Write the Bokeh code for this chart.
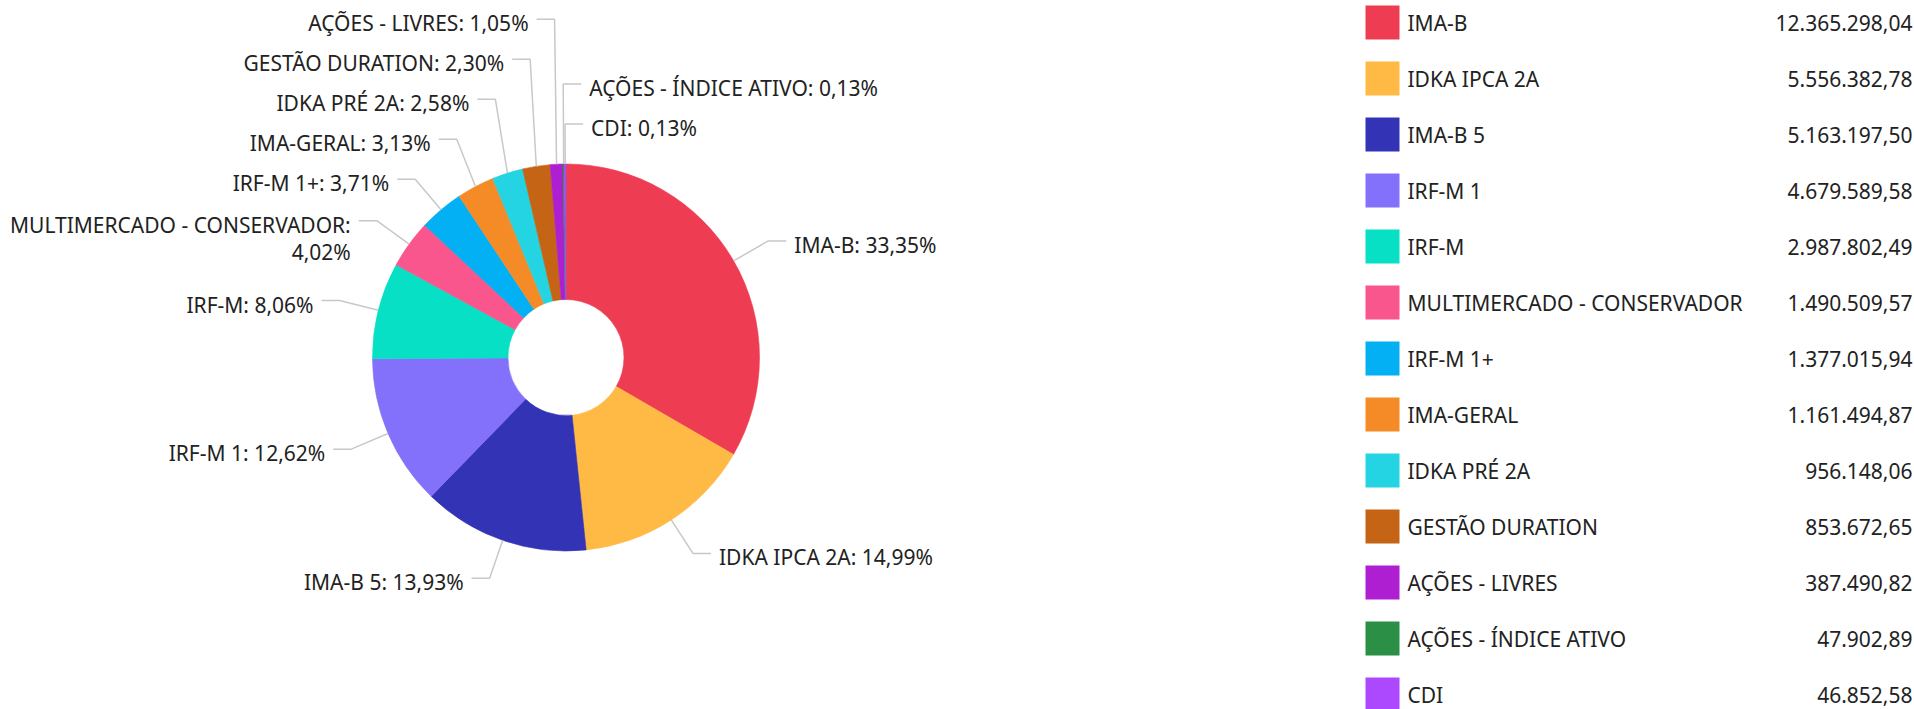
import math
from bokeh.plotting import figure
from bokeh.models import Range1d, ColumnDataSource
from bokeh.core.properties import value
from bokeh.embed import file_html
from bokeh.resources import INLINE

# ---------------- data ----------------
categories = [
    "IMA-B", "IDKA IPCA 2A", "IMA-B 5", "IRF-M 1", "IRF-M",
    "MULTIMERCADO - CONSERVADOR", "IRF-M 1+", "IMA-GERAL", "IDKA PRÉ 2A",
    "GESTÃO DURATION", "AÇÕES - LIVRES", "AÇÕES - ÍNDICE ATIVO", "CDI",
]
amounts = [
    12365298.04, 5556382.78, 5163197.50, 4679589.58, 2987802.49,
    1490509.57, 1377015.94, 1161494.87, 956148.06,
    853672.65, 387490.82, 47902.89, 46852.58,
]
colors = [
    "#ee3d53", "#ffba45", "#3333b6", "#8370fb", "#07e0c5",
    "#f8568c", "#03b0f3", "#f58b27", "#25d4e3",
    "#c66416", "#ad1fd1", "#2b8f45", "#ac48fd",
]

# ---------------- layout constants ----------------
W, H = 1914, 709
CX, CY = 565.5, 357.0
R_OUT, R_IN = 193.5, 58.0
LINE_LEN, LINE_LEN2, TEXT_GAP = 40.0, 18.0, 8.0
LABEL_GAP, LINE_HEIGHT, TEXT_DY = 40.0, 27.0, 4.0
FONT = value("Noto Sans")
FSIZE = value("21px")
TEXT_COLOR = "#222222"


def Y(y):
    return H - y


def br_number(v):
    s = f"{v:,.2f}"
    return s.replace(",", "X").replace(".", ",").replace("X", ".")


total = sum(amounts)
pcts = [a / total * 100 for a in amounts]

p = figure(width=W, height=H, x_range=Range1d(0, W), y_range=Range1d(0, H),
           output_backend="svg", toolbar_location=None, min_border=0)
p.axis.visible = False
p.grid.visible = False
p.outline_line_color = None
p.background_fill_color = "white"
p.border_fill_color = "white"

# ---------------- pie ----------------
starts, ends, mids = [], [], []
cum = 0.0
for a in amounts:
    f0 = cum / total
    cum += a
    f1 = cum / total
    starts.append(math.pi / 2 - 2 * math.pi * f0)
    ends.append(math.pi / 2 - 2 * math.pi * f1)
    mids.append(math.pi * (f0 + f1))  # clockwise angle from top

pie_src = ColumnDataSource(dict(
    x=[CX] * len(amounts), y=[Y(CY)] * len(amounts),
    start=starts, end=ends, color=colors))
p.annular_wedge(x="x", y="y", inner_radius=R_IN, outer_radius=R_OUT,
                start_angle="start", end_angle="end", direction="clock",
                fill_color="color", line_color="color", line_width=0.6,
                source=pie_src)

# ---------------- outside labels ----------------
right, left = [], []
for i, th in enumerate(mids):
    if math.sin(th) > -0.03:
        right.append(i)
    else:
        left.append(i)

right.sort(key=lambda i: mids[i] if mids[i] < math.pi else mids[i] - 2 * math.pi)
left.sort(key=lambda i: -mids[i])

label_y = {}
for side in (right, left):
    ys = [CY - (R_OUT + LINE_LEN) * math.cos(mids[i]) for i in side]
    for k in range(len(ys) - 2, -1, -1):
        ys[k] = min(ys[k], ys[k + 1] - LABEL_GAP)
    for i, yy in zip(side, ys):
        label_y[i] = yy

lx, ly = [], []
tx, ty, tt, ta = [], [], [], []
for i, th in enumerate(mids):
    s, c = math.sin(th), math.cos(th)
    d = 1 if i in right else -1
    x1, y1 = CX + R_OUT * s, CY - R_OUT * c
    x2, y2 = CX + (R_OUT + LINE_LEN) * s, label_y[i]
    x3 = x2 + d * LINE_LEN2
    lx.append([x1, x2, x3])
    ly.append([Y(y1), Y(y2), Y(y2)])
    pct = f"{pcts[i]:.2f}".replace(".", ",") + "%"
    text = f"{categories[i]}: {pct}"
    lines = [f"{categories[i]}:", pct] if len(text) > 28 else [text]
    for k, ln in enumerate(lines):
        tx.append(x3 + d * TEXT_GAP)
        ty.append(Y(y2 + TEXT_DY + k * LINE_HEIGHT))
        tt.append(ln)
        ta.append("left" if d > 0 else "right")

p.multi_line(xs=lx, ys=ly, line_color="#c8c8c8", line_width=1.5)
p.text(x=tx, y=ty, text=tt, text_align=ta, text_baseline="middle",
       text_font=FONT, text_font_size=FSIZE, text_color=TEXT_COLOR)

# ---------------- legend ----------------
LEG_X, LEG_SQ, LEG_Y0, LEG_STEP = 1365.0, 34.0, 22.0, 56.0
LEG_TEXT_X, LEG_VAL_X = 1407.0, 1912.0
leg_y = [Y(LEG_Y0 + LEG_STEP * i) for i in range(len(categories))]
p.rect(x=[LEG_X + LEG_SQ / 2] * len(categories), y=leg_y,
       width=LEG_SQ, height=LEG_SQ, fill_color=colors, line_color=None)
p.text(x=[LEG_TEXT_X] * len(categories), y=leg_y, text=categories,
       text_align="left", text_baseline="middle",
       text_font=FONT, text_font_size=FSIZE, text_color=TEXT_COLOR)
p.text(x=[LEG_VAL_X] * len(categories), y=leg_y,
       text=[br_number(a) for a in amounts],
       text_align="right", text_baseline="middle",
       text_font=FONT, text_font_size=FSIZE, text_color=TEXT_COLOR)

open("out.html", "w").write(file_html(p, INLINE))
